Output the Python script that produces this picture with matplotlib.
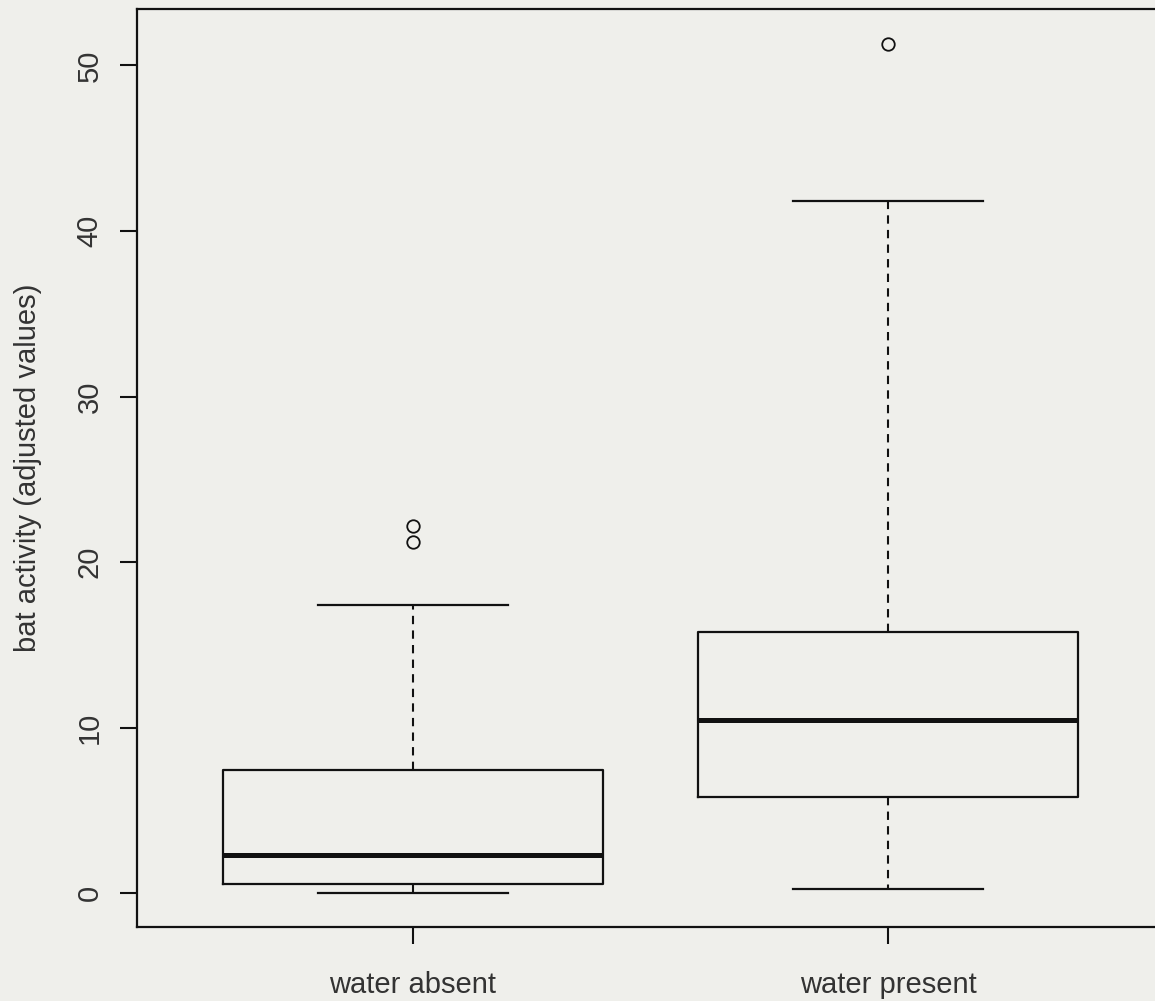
import matplotlib.pyplot as plt

# Box statistics
groups = ['water absent', 'water present']
whis_low = [0.05, 0.25]
q1 = [0.55, 5.85]
median = [2.3, 10.45]
q3 = [7.45, 15.8]
whis_high = [17.4, 41.8]
outliers = [[21.2, 22.2], [51.3]]
yticks = [0, 10, 20, 30, 40, 50]

plt.rcParams['font.family'] = ['Liberation Sans', 'DejaVu Sans']

bg = '#efefeb'
fig = plt.figure(figsize=(11.55, 10.01), dpi=100, facecolor=bg)
ax = fig.add_axes([0.1186, 0.0739, 0.8887, 0.9171], facecolor=bg)

stats = []
for i in range(len(groups)):
    stats.append({'label': groups[i], 'whislo': whis_low[i], 'q1': q1[i],
                  'med': median[i], 'q3': q3[i], 'whishi': whis_high[i],
                  'fliers': outliers[i]})

ax.bxp(stats, positions=[1, 2], widths=0.8, capwidths=0.4, showfliers=True,
       boxprops=dict(color='#111111', linewidth=1.6),
       medianprops=dict(color='#111111', linewidth=3.6, solid_capstyle='butt'),
       whiskerprops=dict(color='#111111', linewidth=1.5, linestyle=(0, (4, 3))),
       capprops=dict(color='#111111', linewidth=1.6),
       flierprops=dict(marker='o', markersize=9, markerfacecolor='none',
                       markeredgecolor='#111111', markeredgewidth=1.3))

ax.set_xlim(0.419, 2.58)
ax.set_ylim(-2.03, 53.4)
ax.set_yticks(yticks)
ax.set_xticks([1, 2])
ax.set_xticklabels(groups)

for s in ax.spines.values():
    s.set_linewidth(1.6)
    s.set_color('#111111')

ax.tick_params(axis='both', length=12, width=1.5, color='#111111',
               labelsize=21, labelcolor='#333333')
ax.tick_params(axis='y', pad=12)
ax.tick_params(axis='x', pad=20)
for lab in ax.get_yticklabels():
    lab.set_rotation(90)
    lab.set_va('center')

ax.set_ylabel('bat activity (adjusted values)', fontsize=21, color='#333333',
              labelpad=24)

fig.savefig('out.png', dpi=100, facecolor=bg)
